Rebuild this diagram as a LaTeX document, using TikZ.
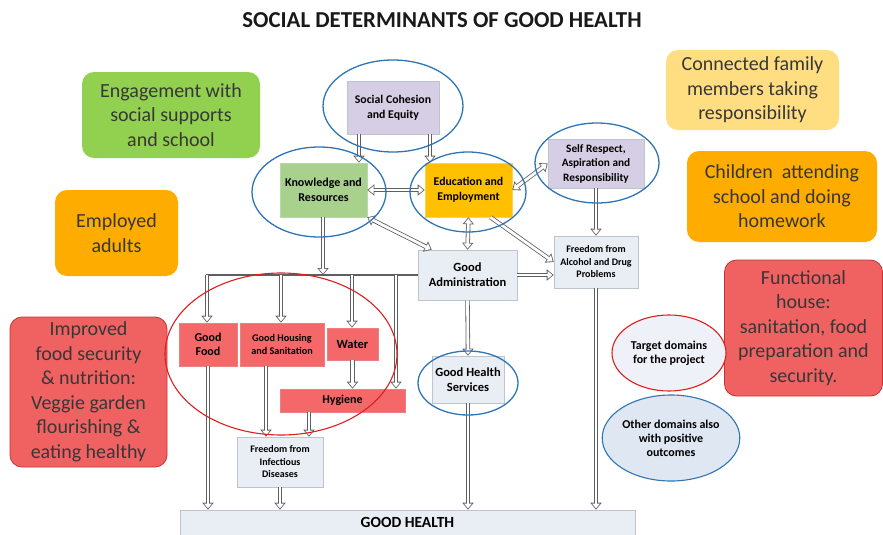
\documentclass[tikz,border=0pt]{standalone}
\usepackage{fontspec}
\setmainfont{Carlito}
\usetikzlibrary{arrows.meta,shapes.geometric,calc}
\definecolor{purplebox}{RGB}{214,206,228}
\definecolor{greenbox}{RGB}{169,209,142}
\definecolor{eduorange}{RGB}{255,192,0}
\definecolor{lightbox}{RGB}{233,237,244}
\definecolor{lightborder}{RGB}{190,196,206}
\definecolor{redbox}{RGB}{244,104,106}
\definecolor{redborder}{RGB}{236,128,128}
\definecolor{blueline}{RGB}{46,117,182}
\definecolor{redline}{RGB}{222,30,30}
\definecolor{arrowgray}{RGB}{95,95,95}
\definecolor{biggreen}{RGB}{146,208,80}
\definecolor{bigorange}{RGB}{255,172,0}
\definecolor{bigyellow}{RGB}{255,222,130}
\definecolor{bigred}{RGB}{240,98,98}
\definecolor{bigredborder}{RGB}{200,50,50}
\definecolor{bigtext}{RGB}{55,55,55}
\definecolor{legendfill}{RGB}{238,241,247}
\definecolor{legendfilltwo}{RGB}{223,231,242}
\begin{document}
\begin{tikzpicture}[x=1pt,y=-1pt,
  sbox/.style={rectangle, draw=lightborder, line width=0.6pt, align=center, inner sep=1pt, font=\bfseries\fontsize{11.8}{15}\selectfont},
  pbox/.style={sbox, fill=purplebox},
  lbox/.style={sbox, fill=lightbox},
  rbox/.style={sbox, fill=redbox, draw=redborder},
  bigbox/.style={rectangle, rounded corners=12pt, align=center, text=bigtext, inner sep=2pt, font=\fontsize{20}{24.5}\selectfont},
  blueell/.style={draw=blueline, line width=1.3pt},
  redell/.style={draw=redline, line width=1.1pt},
  otip/.tip={Triangle[length=7pt, width=11pt]},
  itip/.tip={Triangle[length=4.9pt, width=7.7pt]},
  dar/.style={draw=arrowgray, line width=4.4pt, -otip,
    postaction={draw=white, line width=2.8pt, shorten >=1.3pt, -itip}},
  ddar/.style={draw=arrowgray, line width=4.4pt, otip-otip,
    postaction={draw=white, line width=2.8pt, shorten >=1.3pt, shorten <=1.3pt, itip-itip}},
  busline/.style={draw=arrowgray, line width=1.2pt}
]
\useasboundingbox (0,0) rectangle (883,535);

% title
\node[font=\bfseries\fontsize{22.8}{26}\selectfont, text=black!90] (title) at (442,20) {SOCIAL DETERMINANTS OF GOOD HEALTH};

% big rounded boxes
\node[bigbox, fill=biggreen, minimum width=178, minimum height=86] (eng) at (171,115) {Engagement with\\social supports\\and school};
\node[bigbox, fill=bigorange, minimum width=123, minimum height=86] (emp) at (116.5,233) {Employed\\adults};
\node[bigbox, fill=bigyellow, minimum width=173, minimum height=80] (cfm) at (752.5,90) {Connected family\\members taking\\responsibility};
\node[bigbox, fill=bigorange, minimum width=190, minimum height=91] (chd) at (782,196.5) {Children\ \ attending\\school and doing\\homework};
\node[bigbox, fill=bigred, draw=bigredborder, line width=0.8pt, minimum width=157, minimum height=150] (ifs) at (88.5,392) {Improved\\food security\\\&{} nutrition:\\Veggie garden\\flourishing \&\\eating healthy};
\node[bigbox, fill=bigred, draw=bigredborder, line width=0.8pt, minimum width=158, minimum height=136] (fh) at (803.5,328) {Functional\\house:\\sanitation, food\\preparation and\\security.};

% domain boxes
\node[pbox, minimum width=92, minimum height=53] (sc) at (393,107.5) {Social Cohesion\\and Equity};
\node[sbox, fill=greenbox, draw=greenbox!80!white, minimum width=87, minimum height=54, font=\bfseries\fontsize{12}{15}\selectfont] (kr) at (323.5,190) {Knowledge and\\Resources};
\node[sbox, fill=eduorange, draw=eduorange!70!white, minimum width=87, minimum height=54] (ee) at (468.5,190) {Education and\\Employment};
\node[pbox, minimum width=96, minimum height=49, font=\bfseries\fontsize{11.3}{14.5}\selectfont] (sr) at (596,163.5) {Self Respect,\\Aspiration and\\Responsibility};
\node[lbox, minimum width=99, minimum height=50, font=\bfseries\fontsize{12.5}{15}\selectfont] (gad) at (467.5,275) {Good\\Administration};
\node[lbox, minimum width=84, minimum height=52, font=\bfseries\fontsize{10}{12.5}\selectfont] (fa) at (596,262) {Freedom from\\Alcohol and Drug\\Problems};
\node[lbox, minimum width=72, minimum height=47, font=\bfseries\fontsize{12.5}{14.5}\selectfont] (ghs) at (468,379.5) {Good Health\\Services};
\node[rbox, minimum width=58, minimum height=43, font=\bfseries\fontsize{12}{14}\selectfont] (gf) at (208,344.5) {Good\\Food};
\node[rbox, minimum width=84, minimum height=43, font=\bfseries\fontsize{10.2}{12.5}\selectfont] (ghsan) at (282,344.5) {Good Housing\\and Sanitation};
\node[rbox, minimum width=51, minimum height=32, font=\bfseries\fontsize{12.5}{14}\selectfont] (wat) at (352.5,344) {Water};
\node[rbox, minimum width=125, minimum height=23, font=\bfseries\fontsize{12}{14}\selectfont] (hyg) at (342.5,400.5) {Hygiene};
\node[lbox, minimum width=86, minimum height=50, font=\bfseries\fontsize{10}{12.5}\selectfont] (fid) at (280,462) {Freedom from\\Infectious\\Diseases};
\node[lbox, minimum width=455, minimum height=25, font=\bfseries\fontsize{15.5}{17}\selectfont] (gh) at (407.5,522.5) {GOOD HEALTH};

% legend
\node[ellipse, draw=redline, line width=1.1pt, fill=legendfill, minimum width=114, minimum height=76, align=center, inner sep=0pt, font=\bfseries\fontsize{12}{14}\selectfont] (td) at (669,353) {Target domains\\for the project};
\node[ellipse, draw=blueline, line width=1.1pt, fill=legendfilltwo, minimum width=130, minimum height=86, align=center, inner sep=0pt, font=\bfseries\fontsize{12}{14}\selectfont] (od) at (671,438) {Other domains also\\with positive\\outcomes};

% bus line
\coordinate (busL) at (207,275);
\coordinate (busK) at (323,275);
\coordinate (busH) at (281,275);
\coordinate (busW) at (352,275);
\coordinate (busY) at (396,275);
\draw[busline] ([xshift=-0.6pt]busL) -- (gad.west |- busL);

% arrows
\draw[dar] ([xshift=-34pt]sc.south) -- ([xshift=-34pt]sc.south |- kr.north);
\draw[dar] ([xshift=37pt]sc.south) -- ([xshift=37pt]sc.south |- ee.north);
\draw[ddar] (kr.east) -- (ee.west);
\draw[ddar] (ee.east) -- (sr.west);
\draw[ddar] (kr.south east) -- ([xshift=14pt]gad.north west);
\draw[ddar] (ee.south) -- (gad.north);
\draw[dar] ([xshift=22pt]ee.south) -- (fa.west);
\draw[dar] (sr.south) -- (fa.north);
\draw[dar] (gad.east) -- (fa.west |- gad.east);
\draw[dar] (kr.south -| busK) -- (busK);
\draw[dar] (busL) -- (gf.north -| busL);
\draw[dar] (busH) -- (ghsan.north -| busH);
\draw[dar] (busW) -- (wat.north -| busW);
\draw[dar] (busY) -- (hyg.north -| busY);
\draw[dar] (wat.south) -- (hyg.north -| wat.south);
\coordinate (hx) at (266,0);
\coordinate (yx) at (309,0);
\draw[dar] (ghsan.south -| hx) -- (fid.north -| hx);
\draw[dar] (hyg.south -| yx) -- (fid.north -| yx);
\draw[dar] (gf.south) -- (gh.north -| gf.south);
\draw[dar] (fid.south) -- (gh.north -| fid.south);
\draw[dar] (gad.south) -- (ghs.north);
\draw[dar] (ghs.south) -- (gh.north -| ghs.south);
\draw[dar] (fa.south) -- (gh.north -| fa.south);

% ellipses around domains
\draw[blueell] (393,106) ellipse [x radius=70, y radius=46];
\draw[blueell] (319,192) ellipse [x radius=67, y radius=45];
\draw[blueell] (468,192) ellipse [x radius=58, y radius=40];
\draw[blueell] (597,163) ellipse [x radius=62, y radius=40];
\draw[blueell] (468,383) ellipse [x radius=50, y radius=32];
\draw[redell] (281,354) ellipse [x radius=116, y radius=81];
\end{tikzpicture}
\end{document}
